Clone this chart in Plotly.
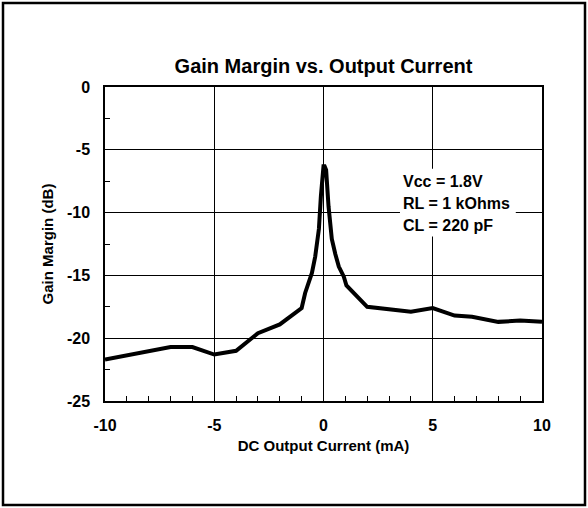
import plotly.graph_objects as go

# Data
current_ma = [-10, -7, -6, -5, -4, -3, -2, -1, -0.84, -0.53, -0.38, -0.21, -0.12, -0.05,
              0, 0.05, 0.12, 0.23, 0.38, 0.54, 0.70, 0.93, 1.05, 2, 3, 4, 5, 6, 6.8, 8, 9, 10]
gain_margin_db = [-21.7, -20.7, -20.7, -21.3, -21.0, -19.6, -18.9, -17.6, -16.4, -14.8, -13.5,
                  -11.3, -8.7, -6.6, -6.3, -6.3, -6.6, -9.5, -12.1, -13.3, -14.3, -15.1, -15.8,
                  -17.5, -17.7, -17.9, -17.6, -18.2, -18.3, -18.7, -18.6, -18.7]
x_ticks = [-10, -5, 0, 5, 10]
y_ticks = [0, -5, -10, -15, -20, -25]
note_lines = ["Vcc = 1.8V", "RL = 1 kOhms", "CL = 220 pF"]

FONT = "Arial, 'Liberation Sans', sans-serif"

fig = go.Figure()
fig.add_trace(go.Scatter(x=current_ma, y=gain_margin_db, mode="lines",
                         line=dict(color="black", width=4), showlegend=False))

axis_common = dict(
    showline=True, linecolor="black", linewidth=1.5, mirror=True,
    showgrid=True, gridcolor="black", gridwidth=1,
    zeroline=True, zerolinecolor="black", zerolinewidth=1,
    ticks="inside", ticklen=5, tickcolor="black", tickwidth=1,
    tickfont=dict(family=FONT, size=16, color="black", weight="bold"),
)

fig.update_xaxes(**axis_common, range=[-10, 10], tickvals=x_ticks,
                 ticktext=[str(v) for v in x_ticks],
                 minor=dict(dtick=1, ticks="inside", ticklen=5, tickcolor="black", showgrid=False),
                 ticklabelstandoff=9,
                 title=dict(text="DC Output Current (mA)", standoff=8,
                            font=dict(family=FONT, size=15, color="black", weight="bold")))
fig.update_yaxes(**axis_common, range=[-25, 0], tickvals=y_ticks,
                 ticktext=[str(v) for v in y_ticks],
                 minor=dict(dtick=2.5, ticks="inside", ticklen=5, tickcolor="black", showgrid=False),
                 ticklabelstandoff=10,
                 title=dict(text="Gain Margin (dB)", standoff=10,
                            font=dict(family=FONT, size=15, color="black", weight="bold")))

# white box behind the condition notes (between gridlines and trace)
fig.add_shape(type="rect", xref="x", yref="y", x0=3.5, x1=8.8, y0=-11.9, y1=-6.5,
              fillcolor="white", line=dict(width=0), layer="between")
for i, txt in enumerate(note_lines):
    fig.add_annotation(x=3.55, y=-7.5 - 1.75 * i, xref="x", yref="y", text=txt,
                       showarrow=False, xanchor="left", yanchor="middle",
                       font=dict(family=FONT, size=16, color="black", weight="bold"))

# outer frame around the whole figure
fig.add_shape(type="rect", xref="paper", yref="paper",
              x0=(3 - 105) / 437, x1=(585 - 105) / 437,
              y0=(401 - 505) / 314, y1=(401 - 3) / 314,
              line=dict(color="black", width=2.5), fillcolor="rgba(0,0,0,0)")

fig.update_layout(
    width=588, height=508,
    margin=dict(l=105, r=46, t=87, b=107),
    paper_bgcolor="white", plot_bgcolor="white",
    title=dict(text="Gain Margin vs. Output Current", x=(105 + 542) / 2 / 588, xanchor="center",
               y=1 - 66 / 508, yanchor="middle",
               font=dict(family=FONT, size=20, color="black", weight="bold")),
    font=dict(family=FONT, color="black"),
)

fig.write_html("out.html", config={"displayModeBar": False},
               post_script="document.body.style.margin='0';document.body.style.overflow='hidden';")
